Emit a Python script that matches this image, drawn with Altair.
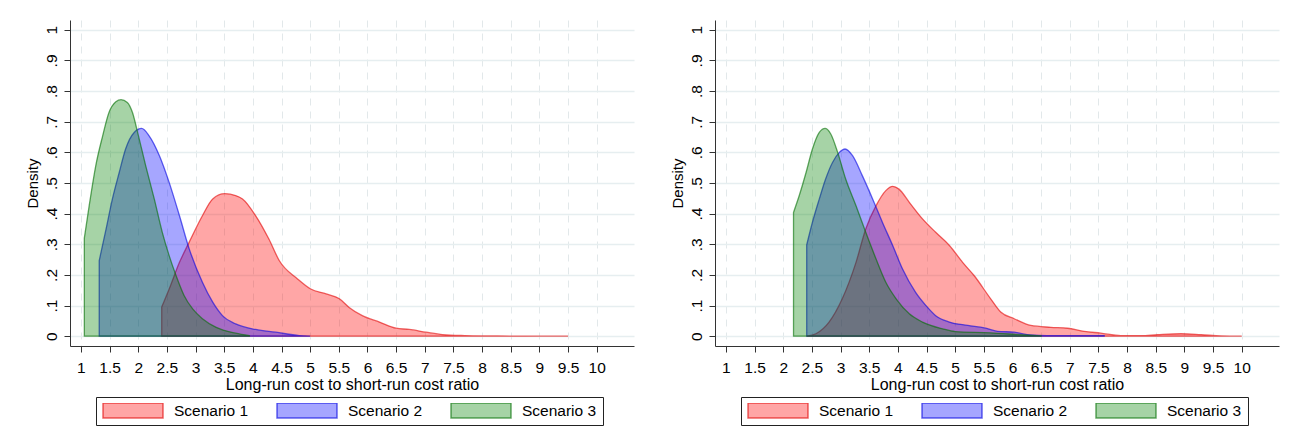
import altair as alt
import pandas as pd

scenarios = ["Scenario 1", "Scenario 2", "Scenario 3"]
fill_colors = ["rgba(255,0,0,0.35)", "rgba(0,0,255,0.35)", "rgba(0,128,0,0.35)"]
line_colors = ["rgba(225,0,0,0.6)", "rgba(0,0,225,0.6)", "rgba(0,110,0,0.6)"]

x_ticks = [1, 1.5, 2, 2.5, 3, 3.5, 4, 4.5, 5, 5.5, 6, 6.5, 7, 7.5, 8, 8.5, 9, 9.5, 10]
y_ticks = [0, 0.1, 0.2, 0.3, 0.4, 0.5, 0.6, 0.7, 0.8, 0.9, 1]

# left panel
left_s1_x = [2.41, 2.54, 2.72, 2.89, 3.12, 3.30, 3.51, 3.70, 3.82, 4.05, 4.28, 4.46,
             4.78, 5.01, 5.28, 5.51, 5.68, 5.91, 6.21, 6.50, 6.73, 7.02, 7.31, 7.70,
             8.00, 8.50, 9.00, 9.50]
left_s1_y = [0.095, 0.154, 0.241, 0.307, 0.393, 0.448, 0.465, 0.459, 0.448, 0.393, 0.317, 0.247,
             0.187, 0.154, 0.138, 0.122, 0.094, 0.067, 0.046, 0.026, 0.022, 0.013, 0.005, 0.002,
             0.001, 0.0005, 0.0002, 0.0]
left_s2_x = [1.32, 1.44, 1.55, 1.67, 1.78, 1.93, 2.06, 2.19, 2.37, 2.54, 2.72, 2.89,
             3.12, 3.30, 3.47, 3.70, 4.05, 4.40, 4.81, 5.00]
left_s2_y = [0.247, 0.350, 0.448, 0.535, 0.611, 0.665, 0.678, 0.654, 0.589, 0.502, 0.393, 0.285,
             0.176, 0.111, 0.067, 0.040, 0.022, 0.013, 0.002, 0.0]
left_s3_x = [1.06, 1.145, 1.26, 1.38, 1.49, 1.61, 1.70, 1.81, 1.90, 1.99, 2.13, 2.28,
             2.42, 2.54, 2.66, 2.80, 2.95, 3.12, 3.36, 3.70, 3.94]
left_s3_y = [0.32, 0.426, 0.557, 0.654, 0.730, 0.765, 0.772, 0.763, 0.730, 0.665, 0.557, 0.448,
             0.339, 0.263, 0.198, 0.133, 0.089, 0.057, 0.029, 0.010, 0.002]

# right panel
right_s1_x = [2.41, 2.57, 2.80, 3.03, 3.27, 3.44, 3.62, 3.79, 3.91, 4.02, 4.20, 4.43,
              4.66, 4.90, 5.13, 5.33, 5.62, 5.80, 6.03, 6.32, 6.67, 6.96, 7.25, 7.54,
              7.89, 8.24, 8.53, 8.94, 9.29, 9.64, 10.0]
right_s1_y = [0.0, 0.008, 0.046, 0.122, 0.241, 0.350, 0.426, 0.475, 0.489, 0.480, 0.437, 0.383,
              0.339, 0.296, 0.241, 0.198, 0.122, 0.078, 0.057, 0.035, 0.029, 0.026, 0.016, 0.010,
              0.002, 0.002, 0.005, 0.008, 0.005, 0.001, 0.0]
right_s2_x = [2.41, 2.51, 2.63, 2.74, 2.86, 2.98, 3.08, 3.21, 3.38, 3.56, 3.73, 3.91,
              4.08, 4.31, 4.49, 4.66, 4.90, 5.22, 5.51, 5.74, 6.03, 6.32, 6.60, 7.60]
right_s2_y = [0.298, 0.372, 0.448, 0.513, 0.567, 0.600, 0.611, 0.589, 0.524, 0.448, 0.372, 0.296,
              0.220, 0.143, 0.100, 0.067, 0.046, 0.035, 0.027, 0.016, 0.013, 0.004, 0.002, 0.002]
right_s3_x = [2.18, 2.28, 2.40, 2.51, 2.63, 2.73, 2.83, 2.95, 3.09, 3.27, 3.44, 3.62,
              3.79, 3.97, 4.20, 4.43, 4.78, 5.00, 5.62, 6.20, 6.50]
right_s3_y = [0.404, 0.459, 0.535, 0.611, 0.665, 0.678, 0.660, 0.600, 0.513, 0.426, 0.339, 0.252,
              0.176, 0.122, 0.073, 0.046, 0.024, 0.015, 0.011, 0.004, 0.001]


def to_frame(series):
    rows = []
    for name, (xs, ys) in zip(scenarios, series):
        rows += [{"scenario": name, "ratio": a, "density": b} for a, b in zip(xs, ys)]
    return pd.DataFrame(rows)


legend = alt.Legend(
    title=None, orient="none", legendX=26, legendY=377, direction="horizontal",
    symbolType="M-1,-0.25H1V0.25H-1Z", symbolSize=3600, symbolStrokeWidth=1.5,
    clipHeight=15, labelOffset=10, columnPadding=27, labelFontSize=15.5,
    labelColor="black", padding=6, strokeColor="#222", fillColor="white",
)


def density_panel(df):
    return (
        alt.Chart(df)
        .mark_area(interpolate="monotone", strokeWidth=1.3)
        .encode(
            x=alt.X(
                "ratio:Q",
                scale=alt.Scale(domain=[0.81, 10.65], nice=False, zero=False),
                axis=alt.Axis(
                    values=x_ticks, format="~g", title="Long-run cost to short-run cost ratio",
                    labelFontSize=15.5, titleFontSize=16, labelPadding=8, titlePadding=1,
                    labelOverlap=False, labelFlush=False, gridDash=[7, 6], gridColor="#e2e8ea",
                ),
            ),
            y=alt.Y(
                "density:Q",
                stack=None,
                scale=alt.Scale(domain=[-0.032, 1.032], nice=False, zero=False),
                axis=alt.Axis(
                    values=y_ticks, title="Density", titleFontSize=15, labelFontSize=15.5,
                    labelAngle=270, labelAlign="center", labelBaseline="bottom",
                    labelPadding=5, titlePadding=4, gridColor="#e6eef0", gridWidth=1.3,
                    labelExpr="datum.value == 0 ? '0' : datum.value == 1 ? '1' : "
                              "replace(format(datum.value, '.1f'), '0.', '.')",
                ),
            ),
            fill=alt.Fill("scenario:N", scale=alt.Scale(domain=scenarios, range=fill_colors), legend=legend),
            stroke=alt.Stroke("scenario:N", scale=alt.Scale(domain=scenarios, range=line_colors), legend=legend),
        )
        .properties(width=564, height=326)
    )


left = density_panel(to_frame([(left_s1_x, left_s1_y), (left_s2_x, left_s2_y), (left_s3_x, left_s3_y)]))
right = density_panel(to_frame([(right_s1_x, right_s1_y), (right_s2_x, right_s2_y), (right_s3_x, right_s3_y)]))

chart = (
    alt.hconcat(left, right, spacing=35)
    .resolve_scale(fill="independent", stroke="independent")
    .resolve_legend(fill="independent", stroke="independent")
    .properties(padding={"left": 16, "top": 12, "right": 5, "bottom": 0})
    .configure(font="Liberation Sans")
    .configure_axis(domainColor="#333", tickColor="#333", tickSize=6, labelColor="black", titleColor="black",
                    titleFontWeight="normal")
    .configure_view(stroke=None)
)

chart.save("out.html", embed_options={"renderer": "svg", "actions": False})
